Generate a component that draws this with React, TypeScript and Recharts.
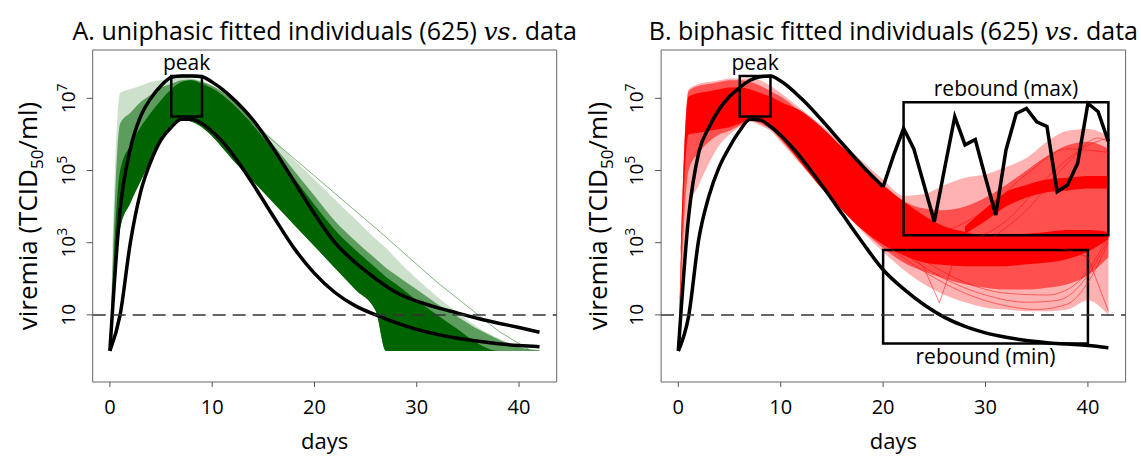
import { ComposedChart, Area, Line, XAxis, YAxis, ReferenceArea, ReferenceLine } from "recharts";

const FONT = "'Open Sans', 'DejaVu Sans', sans-serif";
const X_DOMAIN: [number, number] = [-1.68, 43.68];
const Y_DOMAIN: [number, number] = [-0.86, 8.34];
const xTicks = [0, 10, 20, 30, 40];
const yTicks = [1, 3, 5, 7]; // log10 viremia
const detectionLimit = 1;

// ---- panel A: uniphasic fit (green), values are log10 viremia ----
const curveDays = [0, 1, 2, 3, 4, 5, 6, 7, 8, 9, 10, 11, 12, 13, 14, 16, 18, 20, 22, 24, 26, 28, 30, 32, 34, 36, 38, 40, 42];
const aDataMax = [0, 3.9, 5.6, 6.5, 7.0, 7.35, 7.58, 7.62, 7.62, 7.6, 7.45, 7.25, 7.0, 6.72, 6.4, 5.6, 4.7, 3.8, 3.0, 2.45, 2.0, 1.62, 1.38, 1.2, 1.05, 0.9, 0.77, 0.65, 0.52];
const aDataMin = [0, 1.0, 3.0, 4.4, 5.25, 5.85, 6.2, 6.42, 6.42, 6.3, 6.08, 5.8, 5.45, 5.05, 4.62, 3.72, 2.85, 2.15, 1.62, 1.25, 1.0, 0.78, 0.6, 0.46, 0.35, 0.27, 0.2, 0.15, 0.12];

const gDays = [0, 1, 2, 3, 4, 5, 6, 7, 8, 9, 10, 12, 14, 16, 18, 20, 22, 24, 26, 27, 28, 30, 32, 34, 36, 38, 40, 42];
const gLo = [0, 3.4, 4.1, 4.7, 5.3, 5.8, 6.2, 6.4, 6.35, 6.2, 5.95, 5.3, 4.7, 4.1, 3.5, 2.9, 2.3, 1.7, 1.1, 0, 0, 0, 0, 0, 0, 0, 0, 0];
const gOuterHi = [0, 7.15, 7.25, 7.35, 7.45, 7.5, 7.55, 7.57, 7.55, 7.48, 7.35, 6.95, 6.4, 5.85, 5.3, 4.75, 4.2, 3.65, 3.1, 2.85, 2.55, 2.0, 1.5, 1.05, 0.65, 0.35, 0.12, 0.03];
const gMidHi = [0, 6.3, 6.6, 6.9, 7.1, 7.3, 7.4, 7.5, 7.52, 7.45, 7.35, 6.95, 6.35, 5.7, 5.0, 4.3, 3.6, 3.05, 2.55, 2.3, 2.1, 1.7, 1.3, 0.95, 0.6, 0.32, 0.1, 0.02];
const gCoreHi = [0, 5.0, 5.7, 6.2, 6.6, 6.95, 7.25, 7.45, 7.5, 7.4, 7.28, 6.85, 6.25, 5.55, 4.8, 4.05, 3.35, 2.8, 2.3, 2.05, 1.85, 1.4, 1.0, 0.6, 0.2, 0, 0, 0];
// a few individual fringe trajectories
const gFringeDays = [9, 14, 20, 26, 32, 38, 41];
const gFringeVals = [7.45, 6.3, 4.85, 3.4, 1.9, 0.55, 0.03];

// ---- panel B: biphasic fit (red) ----
const bMaxDays = [0, 1, 2, 3, 4, 5, 6, 7, 8, 9, 10, 12, 14, 16, 18, 20];
const bDataMax = [0, 3.7, 5.5, 6.2, 6.7, 7.05, 7.3, 7.5, 7.6, 7.62, 7.48, 7.0, 6.4, 5.75, 5.12, 4.55];
const zigDays = [20, 21, 22, 23, 24, 25, 26, 27, 28, 29, 30, 31, 32, 33, 34, 35, 36, 37, 38, 39, 40, 41, 42];
const bDataMaxLate = [4.55, 5.4, 6.17, 5.6, 4.6, 3.58, 5.05, 6.49, 5.71, 5.86, 4.8, 3.77, 5.57, 6.58, 6.72, 6.35, 6.22, 4.41, 4.6, 5.2, 6.86, 6.63, 5.8];
const bDataMin = [0, 0.95, 3.1, 4.3, 5.1, 5.65, 6.1, 6.42, 6.4, 6.22, 5.98, 5.68, 5.35, 4.98, 4.6, 3.8, 3.0, 2.25, 1.72, 1.28, 0.93, 0.68, 0.5, 0.38, 0.29, 0.23, 0.19, 0.15, 0.09];

const rDays = [0, 1, 2, 3, 4, 5, 6, 7, 8, 9, 10, 12, 14, 16, 18, 20, 22, 24, 26, 28, 30, 32, 34, 36, 38, 40, 42];
const rOuterLo = [0, 3.9, 4.6, 5.2, 5.7, 6.0, 6.2, 6.35, 6.25, 6.1, 5.8, 5.15, 4.5, 3.9, 3.3, 2.75, 2.25, 1.85, 1.55, 1.35, 1.2, 1.15, 1.1, 1.1, 1.15, 1.4, 1.0];
const rOuterHi = [0, 7.25, 7.4, 7.45, 7.5, 7.55, 7.55, 7.55, 7.5, 7.35, 7.15, 6.7, 6.25, 5.75, 5.25, 4.75, 4.3, 4.35, 4.6, 4.8, 4.9, 5.1, 5.35, 5.8, 6.1, 6.15, 5.95];
const rMidLo = [0, 5.0, 5.5, 5.8, 6.0, 6.1, 6.25, 6.4, 6.3, 6.15, 5.85, 5.2, 4.55, 3.95, 3.35, 2.85, 2.45, 2.2, 2.0, 1.85, 1.75, 1.7, 1.7, 1.75, 1.85, 2.1, 2.6];
const rMidHi = [0, 7.2, 7.35, 7.4, 7.45, 7.5, 7.5, 7.45, 7.35, 7.2, 7.05, 6.6, 6.1, 5.6, 5.1, 4.6, 4.15, 3.95, 3.9, 4.0, 4.25, 4.6, 5.0, 5.4, 5.7, 5.8, 5.6];
const rCoreLo = [0, 6.0, 6.05, 6.1, 6.15, 6.2, 6.3, 6.4, 6.35, 6.2, 5.9, 5.2, 4.5, 3.9, 3.35, 2.95, 2.65, 2.45, 2.38, 2.35, 2.35, 2.35, 2.4, 2.45, 2.55, 2.75, 3.1];
const rCoreHi = [0, 7.05, 7.15, 7.2, 7.25, 7.3, 7.3, 7.25, 7.15, 7.05, 6.9, 6.65, 6.2, 5.65, 5.15, 4.6, 4.15, 3.75, 3.45, 3.3, 3.2, 3.2, 3.25, 3.3, 3.35, 3.35, 3.3];
const reboundDays = [28, 30, 32, 34, 36, 38, 40, 42];
const reboundLo = [3.25, 3.6, 4.0, 4.25, 4.4, 4.45, 4.5, 4.5];
const reboundHi = [3.45, 3.95, 4.4, 4.6, 4.75, 4.8, 4.85, 4.85];
// a few individual trajectories that stand out from the cloud
const rThin: { days: number[]; vals: number[]; type: "monotone" | "linear" }[] = [
  { days: [20, 24, 28, 32, 35, 38, 40, 42], vals: [3.0, 2.2, 1.6, 1.25, 1.15, 1.3, 1.9, 3.0], type: "monotone" },
  { days: [22, 26, 30, 34, 37, 40, 42], vals: [2.7, 2.0, 1.55, 1.35, 1.4, 2.1, 3.1], type: "monotone" },
  { days: [24, 28, 32, 36, 39, 42], vals: [2.5, 1.9, 1.6, 1.55, 1.9, 3.2], type: "monotone" },
  { days: [36, 38, 40, 42], vals: [2.9, 2.8, 2.6, 1.1], type: "linear" },
  { days: [22, 24, 25.5, 27, 30], vals: [2.9, 2.3, 1.33, 2.6, 2.5], type: "linear" },
  { days: [28, 32, 36, 40, 42], vals: [3.0, 3.6, 4.8, 5.7, 5.9], type: "monotone" },
  { days: [30, 34, 38, 41, 42], vals: [3.0, 3.9, 5.2, 5.9, 5.8], type: "monotone" },
  { days: [26, 30, 34, 38, 42], vals: [3.3, 3.9, 4.9, 5.6, 5.5], type: "monotone" },
];

const pts = (days: number[], vals: number[]) => days.map((d, i) => ({ day: d, v: vals[i] }));
const band = (days: number[], lo: number[], hi: number[]) => days.map((d, i) => ({ day: d, range: [lo[i], hi[i]] }));

type Box = { x1: number; x2: number; y1: number; y2: number; label: string; pos: "top" | "bottom" };
type Thin = { data: any[]; color: string; type: "monotone" | "linear" };

const boxesA: Box[] = [{ x1: 6, x2: 9, y1: 6.5, y2: 7.62, label: "peak", pos: "top" }];
const boxesB: Box[] = [
  { x1: 6, x2: 9, y1: 6.5, y2: 7.62, label: "peak", pos: "top" },
  { x1: 22, x2: 42, y1: 3.21, y2: 6.89, label: "rebound (max)", pos: "top" },
  { x1: 20, x2: 40, y1: 0.21, y2: 2.8, label: "rebound (min)", pos: "bottom" },
];

const YTick = (props: any) => {
  const { x, y, payload } = props;
  const p = payload.value;
  return (
    <text transform={`translate(${x - 10},${y}) rotate(-90)`} textAnchor="middle" fontSize={19} fontFamily={FONT} fill="#000">
      10
      {p > 1 && (
        <tspan dy={-8} fontSize={14}>
          {p}
        </tspan>
      )}
    </text>
  );
};

function Panel(props: {
  left: number;
  width: number;
  marginRight: number;
  yAxisWidth: number;
  bands: { data: any[]; color: string; opacity: number }[];
  thin: Thin[];
  curves: { data: any[]; type: "monotone" | "linear" }[];
  boxes: Box[];
}) {
  const { left, width, marginRight, yAxisWidth, bands, thin, curves, boxes } = props;
  return (
    <div style={{ position: "absolute", left, top: 0 }}>
      <ComposedChart width={width} height={462} margin={{ top: 50, right: marginRight, bottom: 0, left: 0 }}>
        <XAxis
          type="number"
          dataKey="day"
          domain={X_DOMAIN}
          ticks={xTicks}
          allowDataOverflow
          axisLine={false}
          tickSize={5}
          tickMargin={13}
          tickLine={{ stroke: "#555" }}
          tick={{ fill: "#000", fontSize: 20, fontFamily: FONT }}
          height={80}
        />
        <YAxis
          type="number"
          domain={Y_DOMAIN}
          ticks={yTicks}
          allowDataOverflow
          axisLine={false}
          tickSize={6}
          tickLine={{ stroke: "#555" }}
          tick={<YTick />}
          width={yAxisWidth}
        />
        {bands.map((b, i) => (
          <Area
            key={"b" + i}
            data={b.data}
            dataKey="range"
            type="monotone"
            stroke="none"
            fill={b.color}
            fillOpacity={b.opacity}
            isAnimationActive={false}
          />
        ))}
        {thin.map((t, i) => (
          <Line
            key={"t" + i}
            data={t.data}
            dataKey="v"
            type={t.type}
            stroke={t.color}
            strokeOpacity={0.55}
            strokeWidth={0.9}
            dot={false}
            isAnimationActive={false}
          />
        ))}
        {curves.map((c, i) => (
          <Line
            key={"c" + i}
            data={c.data}
            dataKey="v"
            type={c.type}
            stroke="#000"
            strokeWidth={3.5}
            dot={false}
            isAnimationActive={false}
          />
        ))}
        {boxes.map((b, i) => (
          <ReferenceArea
            key={"r" + i}
            x1={b.x1}
            x2={b.x2}
            y1={b.y1}
            y2={b.y2}
            fill="none"
            stroke="#000"
            strokeWidth={2.5}
            label={{ value: b.label, position: b.pos, offset: 6, fill: "#000", fontSize: 21, fontFamily: FONT }}
          />
        ))}
        <ReferenceLine y={detectionLimit} stroke="#333" strokeWidth={1.5} strokeDasharray="13 7" />
        <ReferenceArea x1={X_DOMAIN[0]} x2={X_DOMAIN[1]} y1={Y_DOMAIN[0]} y2={Y_DOMAIN[1]} fill="none" stroke="#666" strokeWidth={1} />
      </ComposedChart>
    </div>
  );
}

function Title(props: { x: number; letter: string; kind: string }) {
  return (
    <text x={props.x} y={40} textAnchor="middle" fontSize={25} fontFamily={FONT} fill="#000">
      {props.letter}. {props.kind} fitted individuals (625){" "}
      <tspan fontFamily="'DejaVu Serif', serif" fontStyle="italic">
        vs.
      </tspan>{" "}
      data
    </text>
  );
}

function YLabel(props: { x: number }) {
  return (
    <text transform={`translate(${props.x},216) rotate(-90)`} textAnchor="middle" fontSize={26} fontFamily={FONT} fill="#000">
      viremia (TCID
      <tspan dy={6} fontSize={17}>
        50
      </tspan>
      <tspan dy={-6}>/ml)</tspan>
    </text>
  );
}

export default function App() {
  const green = "#006400";
  const red = "#ff0000";
  const bandsA = [
    { data: band(gDays, gLo, gOuterHi), color: green, opacity: 0.2 },
    { data: band(gDays, gLo, gMidHi), color: green, opacity: 0.55 },
    { data: band(gDays, gLo, gCoreHi), color: green, opacity: 1 },
  ];
  const bandsB = [
    { data: band(rDays, rOuterLo, rOuterHi), color: red, opacity: 0.3 },
    { data: band(rDays, rMidLo, rMidHi), color: red, opacity: 0.55 },
    { data: band(rDays, rCoreLo, rCoreHi), color: red, opacity: 1 },
    { data: band(reboundDays, reboundLo, reboundHi), color: red, opacity: 1 },
  ];
  const thinA: Thin[] = [{ data: pts(gFringeDays, gFringeVals), color: green, type: "linear" }];
  const thinB: Thin[] = rThin.map((t) => ({ data: pts(t.days, t.vals), color: red, type: t.type }));
  const curvesA = [
    { data: pts(curveDays, aDataMax), type: "monotone" as const },
    { data: pts(curveDays, aDataMin), type: "monotone" as const },
  ];
  const curvesB = [
    { data: pts(bMaxDays, bDataMax), type: "monotone" as const },
    { data: pts(zigDays, bDataMaxLate), type: "linear" as const },
    { data: pts(curveDays, bDataMin), type: "monotone" as const },
  ];
  return (
    <div style={{ position: "fixed", left: 0, top: 0, width: 1141, height: 462, background: "#fff", overflow: "hidden" }}>
      <Panel left={0} width={570} marginRight={13.3} yAxisWidth={92.7} bands={bandsA} thin={thinA} curves={curvesA} boxes={boxesA} />
      <Panel left={570} width={571} marginRight={15.4} yAxisWidth={91.1} bands={bandsB} thin={thinB} curves={curvesB} boxes={boxesB} />
      <svg width={1141} height={462} style={{ position: "absolute", left: 0, top: 0, pointerEvents: "none" }}>
        <Title x={324.7} letter="A" kind="uniphasic" />
        <Title x={893.4} letter="B" kind="biphasic" />
        <YLabel x={37} />
        <YLabel x={607} />
        <text x={324.7} y={449} textAnchor="middle" fontSize={22} fontFamily={FONT} fill="#000">
          days
        </text>
        <text x={893.4} y={449} textAnchor="middle" fontSize={22} fontFamily={FONT} fill="#000">
          days
        </text>
      </svg>
    </div>
  );
}
